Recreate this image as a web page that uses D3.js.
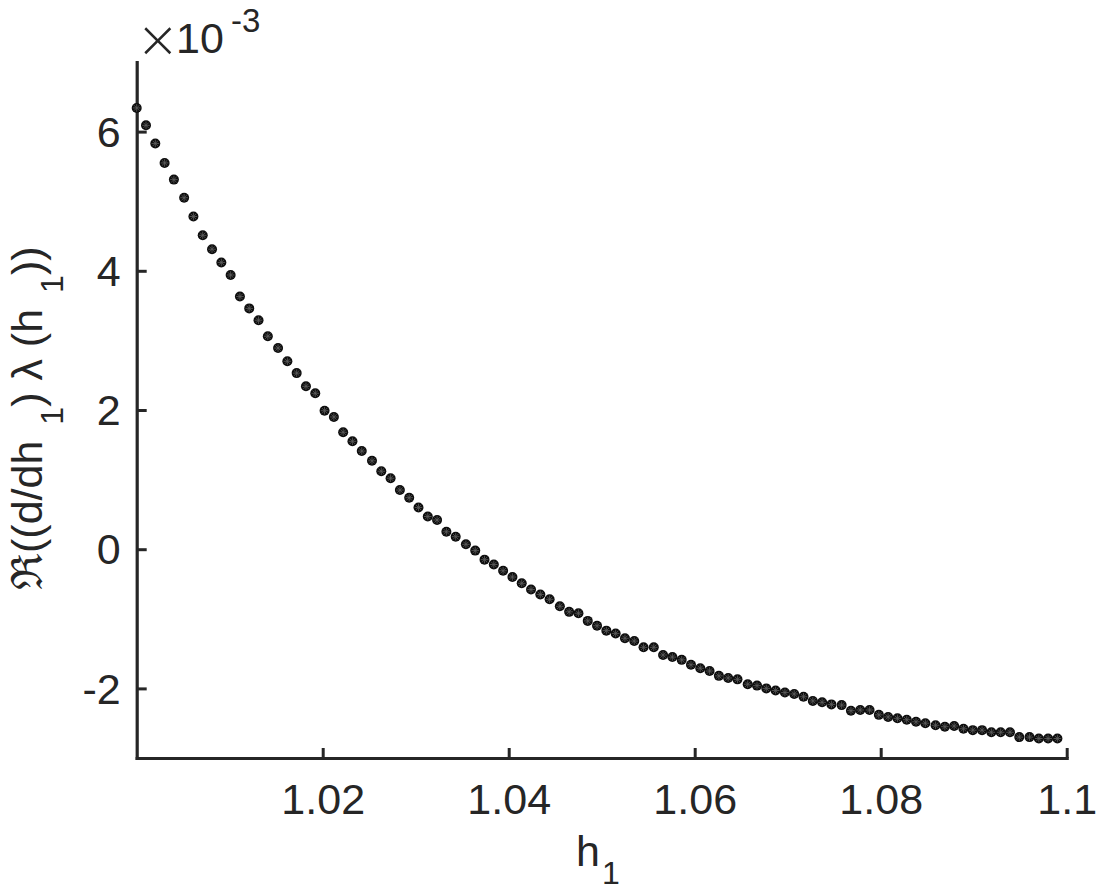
<!DOCTYPE html>
<html>
<head>
<meta charset="utf-8">
<script src="https://cdn.jsdelivr.net/npm/d3@7"></script>
<style>
    html, body { margin: 0; padding: 0; background: #fff; }
    svg { display: block; }
    text { font-family: "Liberation Sans", Arial, Helvetica, sans-serif; fill: #262626; }
</style>
</head>
<body>
<div id="plot"></div>
<script>
// h_1 samples (first 99 of linspace(1, 1.1, 100))
const h1 = [
    1.0000, 1.0010, 1.0020, 1.0030, 1.0040, 1.0051, 1.0061, 1.0071, 1.0081, 1.0091,
    1.0101, 1.0111, 1.0121, 1.0131, 1.0141, 1.0152, 1.0162, 1.0172, 1.0182, 1.0192,
    1.0202, 1.0212, 1.0222, 1.0232, 1.0242, 1.0253, 1.0263, 1.0273, 1.0283, 1.0293,
    1.0303, 1.0313, 1.0323, 1.0333, 1.0343, 1.0354, 1.0364, 1.0374, 1.0384, 1.0394,
    1.0404, 1.0414, 1.0424, 1.0434, 1.0444, 1.0455, 1.0465, 1.0475, 1.0485, 1.0495,
    1.0505, 1.0515, 1.0525, 1.0535, 1.0545, 1.0556, 1.0566, 1.0576, 1.0586, 1.0596,
    1.0606, 1.0616, 1.0626, 1.0636, 1.0646, 1.0657, 1.0667, 1.0677, 1.0687, 1.0697,
    1.0707, 1.0717, 1.0727, 1.0737, 1.0747, 1.0758, 1.0768, 1.0778, 1.0788, 1.0798,
    1.0808, 1.0818, 1.0828, 1.0838, 1.0848, 1.0859, 1.0869, 1.0879, 1.0889, 1.0899,
    1.0909, 1.0919, 1.0929, 1.0939, 1.0949, 1.0960, 1.0970, 1.0980, 1.0990
];

// Re(d lambda / d h_1), in units of 1e-3
const reDLambda = [
    6.34, 6.09, 5.83, 5.55, 5.31, 5.05, 4.78, 4.51, 4.31, 4.12,
    3.94, 3.63, 3.46, 3.29, 3.06, 2.89, 2.70, 2.53, 2.34, 2.24,
    1.99, 1.90, 1.68, 1.55, 1.41, 1.27, 1.12, 1.02, 0.85, 0.74,
    0.60, 0.47, 0.42, 0.25, 0.18, 0.07, -0.02, -0.15, -0.22, -0.31,
    -0.40, -0.49, -0.58, -0.65, -0.72, -0.82, -0.90, -0.92, -1.03, -1.10,
    -1.17, -1.21, -1.28, -1.32, -1.41, -1.41, -1.52, -1.55, -1.59, -1.66,
    -1.71, -1.75, -1.82, -1.85, -1.87, -1.94, -1.96, -2.00, -2.03, -2.06,
    -2.08, -2.12, -2.18, -2.20, -2.23, -2.24, -2.32, -2.31, -2.31, -2.38,
    -2.41, -2.43, -2.45, -2.48, -2.50, -2.53, -2.55, -2.54, -2.58, -2.60,
    -2.60, -2.63, -2.63, -2.63, -2.70, -2.70, -2.72, -2.72, -2.72
];

const xTicks = [1.02, 1.04, 1.06, 1.08, 1.1];
const yTicks = [-2, 0, 2, 4, 6];

const width = 1103, height = 896;
const axisColor = "#262626";
const fontSize = 43;

let svg = d3.select("#plot")
    .append("svg")
    .attr("width", width)
    .attr("height", height);

const x = d3.scaleLinear().domain([1.0, 1.1]).range([136.7, 1066.7]);
const y = d3.scaleLinear().domain([-3, 7]).range([758, 62]);

// x axis, ticks pointing inward
let gx = svg.append("g")
    .attr("transform", "translate(0," + y(-3) + ")")
    .call(d3.axisBottom(x)
        .tickValues(xTicks)
        .tickFormat(d3.format("~g"))
        .tickSizeInner(-10)
        .tickSizeOuter(0)
        .tickPadding(25));

// y axis
let gy = svg.append("g")
    .attr("transform", "translate(" + x(1.0) + ",0)")
    .call(d3.axisLeft(y)
        .tickValues(yTicks)
        .tickFormat(d => d < 0 ? "-" + Math.abs(d) : d)
        .tickSizeInner(-10)
        .tickSizeOuter(0)
        .tickPadding(16));

[gx, gy].forEach(g => {
    g.select(".domain")
        .attr("stroke", axisColor)
        .attr("stroke-width", 3.2)
        .attr("stroke-linecap", "square");
    g.selectAll(".tick line")
        .attr("stroke", axisColor)
        .attr("stroke-width", 3);
    g.selectAll(".tick text")
        .attr("fill", axisColor)
        .style("font-size", fontSize + "px")
        .style("font-family", '"Liberation Sans", Arial, Helvetica, sans-serif');
});
gy.selectAll(".tick text").attr("dy", "0.34em");

// markers: filled dot with an asterisk on top
const points = h1.map((h, i) => ({h: h, v: reDLambda[i]}));
let marks = svg.append("g")
    .selectAll("g")
    .data(points)
    .enter()
    .append("g")
    .attr("transform", d => "translate(" + x(d.h) + "," + y(d.v) + ")");

marks.append("circle")
    .attr("r", 5)
    .attr("fill", "#0d0d0d");

const star = [[-3.8, 0, 3.8, 0], [0, -3.8, 0, 3.8], [-2.7, -2.7, 2.7, 2.7], [-2.7, 2.7, 2.7, -2.7]];
star.forEach(s => {
    marks.append("line")
        .attr("x1", s[0]).attr("y1", s[1])
        .attr("x2", s[2]).attr("y2", s[3])
        .attr("stroke", "#5e5e5e")
        .attr("stroke-width", 0.8);
});

// exponent label
let expo = svg.append("g");
expo.append("text").attr("x", 136).attr("y", 57)
    .style("font-family", '"DejaVu Sans", sans-serif')
    .style("font-size", "52px").style("font-weight", "200").text("\u00d7");
expo.append("text").attr("x", 176).attr("y", 53).style("font-size", fontSize + "px").text("10");
expo.append("text").attr("x", 231).attr("y", 32).style("font-size", "33px").text("-3");

// x label
let xl = svg.append("text")
    .attr("x", 576)
    .attr("y", 866)
    .style("font-size", fontSize + "px");
xl.append("tspan").text("h");
xl.append("tspan").attr("dx", 2).attr("dy", 18).style("font-size", "32px").text("1");

// y label (rotated)
let yl = svg.append("text")
    .attr("transform", "translate(42,590) rotate(-90)")
    .style("font-size", fontSize + "px");
yl.append("tspan").text("\u211c((d/dh");
yl.append("tspan").attr("dx", 16).attr("dy", 21).style("font-size", "32px").text("1");
yl.append("tspan").attr("dy", -21).style("font-size", fontSize + "px").text(") \u03bb (h");
yl.append("tspan").attr("dx", 16).attr("dy", 21).style("font-size", "32px").text("1");
yl.append("tspan").attr("dy", -21).style("font-size", fontSize + "px").text("))");
</script>
</body>
</html>
